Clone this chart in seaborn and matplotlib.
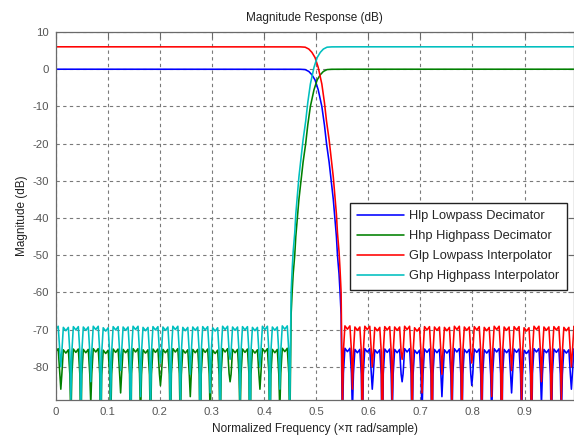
import numpy as np
import pandas as pd
import matplotlib
matplotlib.use("Agg")
import matplotlib.pyplot as plt
import seaborn as sns

# ---------------- data ----------------
# Lowpass decimator (Hlp): passband + transition band
lp_trans_f = [0.0, 0.30, 0.44, 0.470, 0.479, 0.486, 0.492, 0.498, 0.504, 0.511,
              0.516, 0.520, 0.525, 0.529, 0.533, 0.536, 0.539, 0.541, 0.544, 0.546, 0.548]
lp_trans_db = [0.0, 0.0, 0.0, -0.02, -0.1, -0.6, -1.5, -2.9, -5.5, -10.0,
               -15.0, -20.0, -25.0, -30.0, -35.0, -40.0, -45.0, -50.0, -55.0, -60.0, -66.0]

# Lowpass stopband: null frequencies, null depths and lobe peak levels
lp_null_f = [0.5505, 0.5697, 0.5887, 0.6078, 0.6270, 0.6460, 0.6651, 0.6842, 0.7033,
             0.7224, 0.7415, 0.7606, 0.7797, 0.7988, 0.8179, 0.8370, 0.8561, 0.8752,
             0.8943, 0.9134, 0.9325, 0.9516, 0.9707, 0.9900, 1.0100]
lp_null_db = [-98, -92, -104, -86, -110, -95, -84, -101, -93, -107, -88, -97, -102,
              -85, -99, -94, -108, -87, -96, -103, -90, -100, -95, -86, -98]
lp_peak_db = [-74.7, -75.0, -74.8, -75.1, -74.9, -75.0, -74.8, -75.2, -74.9, -75.0,
              -75.1, -74.8, -75.0, -74.9, -75.1, -74.8, -75.0, -74.9, -75.2, -74.8,
              -75.0, -74.9, -75.1, -74.8]
# lobe shape read from the zoomed stopband: (fraction of lobe width, dB below the peak)
lobe_shape_pos = [0.10, 0.25, 0.50, 0.75, 0.90]
lobe_shape_drop = [7.0, 0.3, 1.2, 0.3, 7.0]
interp_gain_db = 6.02        # interpolator filters have a gain of 2

series_names = ["Hlp Lowpass Decimator", "Hhp Highpass Decimator",
                "Glp Lowpass Interpolator", "Ghp Highpass Interpolator"]
series_colors = ["#0000ff", "#008000", "#ff0000", "#00bfbf"]

x_ticks = [0, 0.1, 0.2, 0.3, 0.4, 0.5, 0.6, 0.7, 0.8, 0.9]
y_ticks = [10, 0, -10, -20, -30, -40, -50, -60, -70, -80]

# ---------------- build curves ----------------
f_lp = list(lp_trans_f)
db_lp = list(lp_trans_db)
for i, pk in enumerate(lp_peak_db):
    f0, f1 = lp_null_f[i], lp_null_f[i + 1]
    w = f1 - f0
    f_lp.append(f0)
    db_lp.append(lp_null_db[i])
    for p, d in zip(lobe_shape_pos, lobe_shape_drop):
        f_lp.append(f0 + p * w)
        db_lp.append(pk - d)
f_lp.append(lp_null_f[-1])
db_lp.append(lp_null_db[-1])
f_lp = np.array(f_lp)
db_lp = np.array(db_lp)

# Highpass decimator is the QMF mirror of the lowpass one
f_hp = (1.0 - f_lp)[::-1]
db_hp = db_lp[::-1]

frames = [
    pd.DataFrame({"f": f_lp, "db": db_lp, "s": series_names[0]}),
    pd.DataFrame({"f": f_hp, "db": db_hp, "s": series_names[1]}),
    pd.DataFrame({"f": f_lp, "db": db_lp + interp_gain_db, "s": series_names[2]}),
    pd.DataFrame({"f": f_hp, "db": db_hp + interp_gain_db, "s": series_names[3]}),
]

# ---------------- plot ----------------
sns.set_theme(style="white")
plt.rcParams["font.family"] = ["Liberation Sans", "DejaVu Sans"]
plt.rcParams["axes.unicode_minus"] = False

fig = plt.figure(figsize=(5.74, 4.36), dpi=100)
fig.patch.set_facecolor("white")
ax = fig.add_axes([55.6 / 574, 36 / 436, (574 - 55.6) / 574, 368 / 436])
ax.set_facecolor("white")

for df, name, col in zip(frames, series_names, series_colors):
    sns.lineplot(data=df, x="f", y="db", ax=ax, color=col, lw=1.15,
                 estimator=None, sort=False, label=name)

ax.set_xlim(0, 0.995)
ax.set_ylim(-88.9, 10)
ax.set_xticks(x_ticks)
ax.set_xticklabels([f"{t:g}" for t in x_ticks])
ax.set_yticks(y_ticks)

ax.grid(True, color="#7a7a7a", linestyle=(0, (3, 3)), linewidth=0.8)
for sp in ax.spines.values():
    sp.set_color("#6a6a6a")
    sp.set_linewidth(0.9)
ax.tick_params(direction="in", length=4, width=0.8, color="#6a6a6a",
               top=True, right=True, labelsize=8.2, labelcolor="#555555", pad=5)

ax.set_title("Magnitude Response (dB)", fontsize=8.5, color="#222222", pad=8)
ax.set_xlabel("Normalized Frequency (\u00d7\u03c0 rad/sample)", fontsize=8.5,
              color="#222222", labelpad=4)
ax.set_ylabel("Magnitude (dB)", fontsize=8.5, color="#222222", labelpad=3)

leg = ax.legend(loc="upper left", bbox_to_anchor=(0.568, 0.535), borderaxespad=0,
                fontsize=9.3, frameon=True, fancybox=False, shadow=False,
                handlelength=3.6, labelspacing=0.62, borderpad=0.55,
                handletextpad=0.45)
leg.get_frame().set_edgecolor("#222222")
leg.get_frame().set_linewidth(1.0)
leg.get_frame().set_facecolor("white")
leg.get_frame().set_alpha(1.0)

fig.savefig("out.png", dpi=100, facecolor="white")
